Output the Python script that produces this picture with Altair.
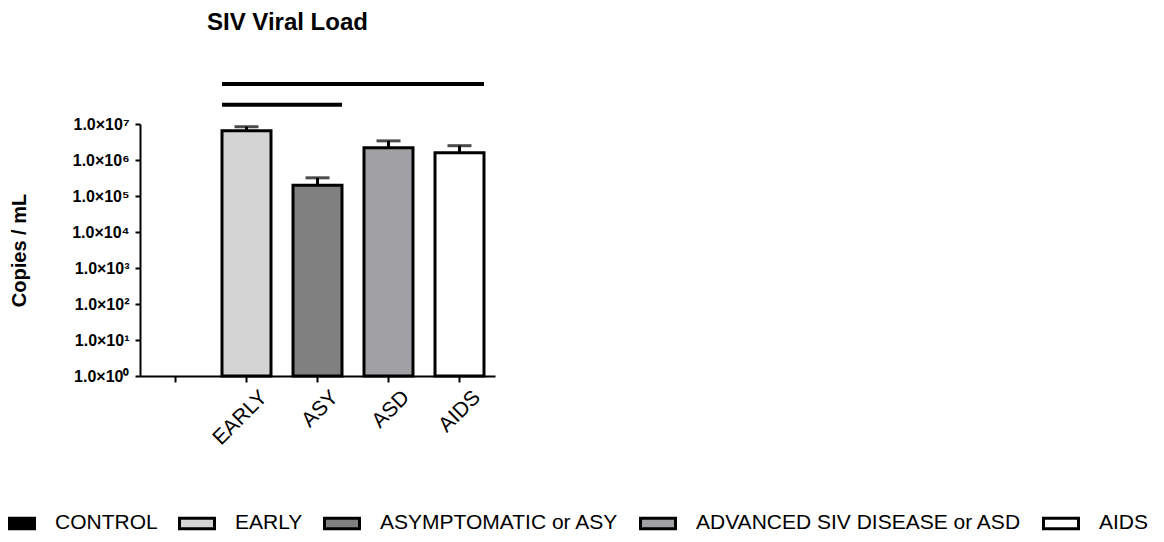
import altair as alt
import pandas as pd

categories = ["CONTROL", "EARLY", "ASY", "ASD", "AIDS"]
group_names = ["CONTROL", "EARLY", "ASYMPTOMATIC or ASY", "ADVANCED SIV DISEASE or ASD", "AIDS"]
mean_copies = [None, 6.5e6, 2.0e5, 2.2e6, 1.6e6]
sem_top = [None, 8.4e6, 3.2e5, 3.4e6, 2.5e6]
bar_colors = ["#000000", "#d4d4d4", "#808080", "#a1a1a5", "#ffffff"]
baseline = [1, 1, 1, 1, 1]

y_tick_values = [1, 10, 100, 1e3, 1e4, 1e5, 1e6, 1e7]
y_tick_labels = ["1.0×10⁰", "1.0×10¹", "1.0×10²", "1.0×10³",
                 "1.0×10⁴", "1.0×10⁵", "1.0×10⁶", "1.0×10⁷"]

sig_from = ["EARLY", "EARLY"]
sig_to = ["AIDS", "ASY"]
sig_level = [1.3e8, 3.4e7]

FONT = "Liberation Sans"

df = pd.DataFrame({"cat": categories, "group": group_names,
                   "mean": mean_copies, "top": sem_top, "base": baseline})
sig = pd.DataFrame({"from": sig_from, "to": sig_to, "level": sig_level})

label_arr = "[" + ",".join("'" + s + "'" for s in y_tick_labels) + "]"
y_label_expr = label_arr + "[round(log(datum.value)/LN10)]"

xscale = alt.Scale(domain=categories, paddingInner=0.31, paddingOuter=0.155)
yscale = alt.Scale(type="log", domain=[1, 1e7], nice=False)

x_axis = alt.Axis(title=None, labelAngle=-45, labelAlign="right", labelBaseline="top",
                  labelFont=FONT, labelFontSize=21, labelColor="black",
                  labelExpr="datum.value == 'CONTROL' ? '' : datum.value",
                  tickSize=6, tickWidth=2, tickColor="black", labelOffset=10,
                  domainColor="black", domainWidth=2, labelPadding=4)
y_axis = alt.Axis(title="Copies / mL", values=y_tick_values, labelExpr=y_label_expr,
                  labelFont=FONT, labelFontSize=16, labelFontWeight="bold", labelColor="black",
                  tickSize=5, tickWidth=2, tickColor="black", domainColor="black",
                  domainWidth=2, grid=False, labelPadding=6,
                  titleFont=FONT, titleFontSize=20, titleFontWeight="bold", titleColor="black",
                  titleX=-115, titleY=126, titleAngle=270, titleAlign="center",
                  titleBaseline="alphabetic")

bars = alt.Chart(df).mark_bar(stroke="black", strokeWidth=3).encode(
    x=alt.X("cat:N", scale=xscale, axis=x_axis, sort=categories),
    y=alt.Y("mean:Q", scale=yscale, axis=y_axis),
    y2=alt.Y2("base:Q"),
    fill=alt.Fill("group:N", scale=alt.Scale(domain=group_names, range=bar_colors),
                  legend=alt.Legend(title=None, orient="none", direction="horizontal",
                                    legendX=-142, legendY=380,
                                    symbolType="M-1,-0.3H1V0.3H-1Z", symbolSize=1225,
                                    symbolStrokeColor="black", symbolStrokeWidth=3,
                                    symbolOpacity=1, labelFont=FONT, labelFontSize=21,
                                    labelColor="black", labelOffset=19, columnPadding=15,
                                    labelLimit=600)),
)

err = alt.Chart(df).mark_rule(color="black", strokeWidth=3).encode(
    x=alt.X("cat:N", scale=xscale, sort=categories),
    y=alt.Y("mean:Q", scale=yscale),
    y2=alt.Y2("top:Q"),
)

cap = alt.Chart(df).mark_tick(color="black", thickness=3, size=24).encode(
    x=alt.X("cat:N", scale=xscale, sort=categories),
    y=alt.Y("top:Q", scale=yscale),
)

sig_lines = alt.Chart(sig).mark_rule(color="black", strokeWidth=4).encode(
    x=alt.X("from:N", scale=xscale, bandPosition=0, sort=categories),
    x2=alt.X2("to:N", bandPosition=1),
    y=alt.Y("level:Q", scale=yscale),
)

chart = alt.layer(bars, err, cap, sig_lines).properties(
    width=355, height=252,
    title=alt.TitleParams("SIV Viral Load", anchor="start", frame="group", dx=67,
                          fontSize=24, font=FONT, fontWeight="bold", color="black", offset=47),
    autosize="none",
    padding={"left": 132, "top": 116, "right": 661, "bottom": 158},
).configure_view(stroke=None)

chart.save("out.html", embed_options={"renderer": "svg", "actions": False})
